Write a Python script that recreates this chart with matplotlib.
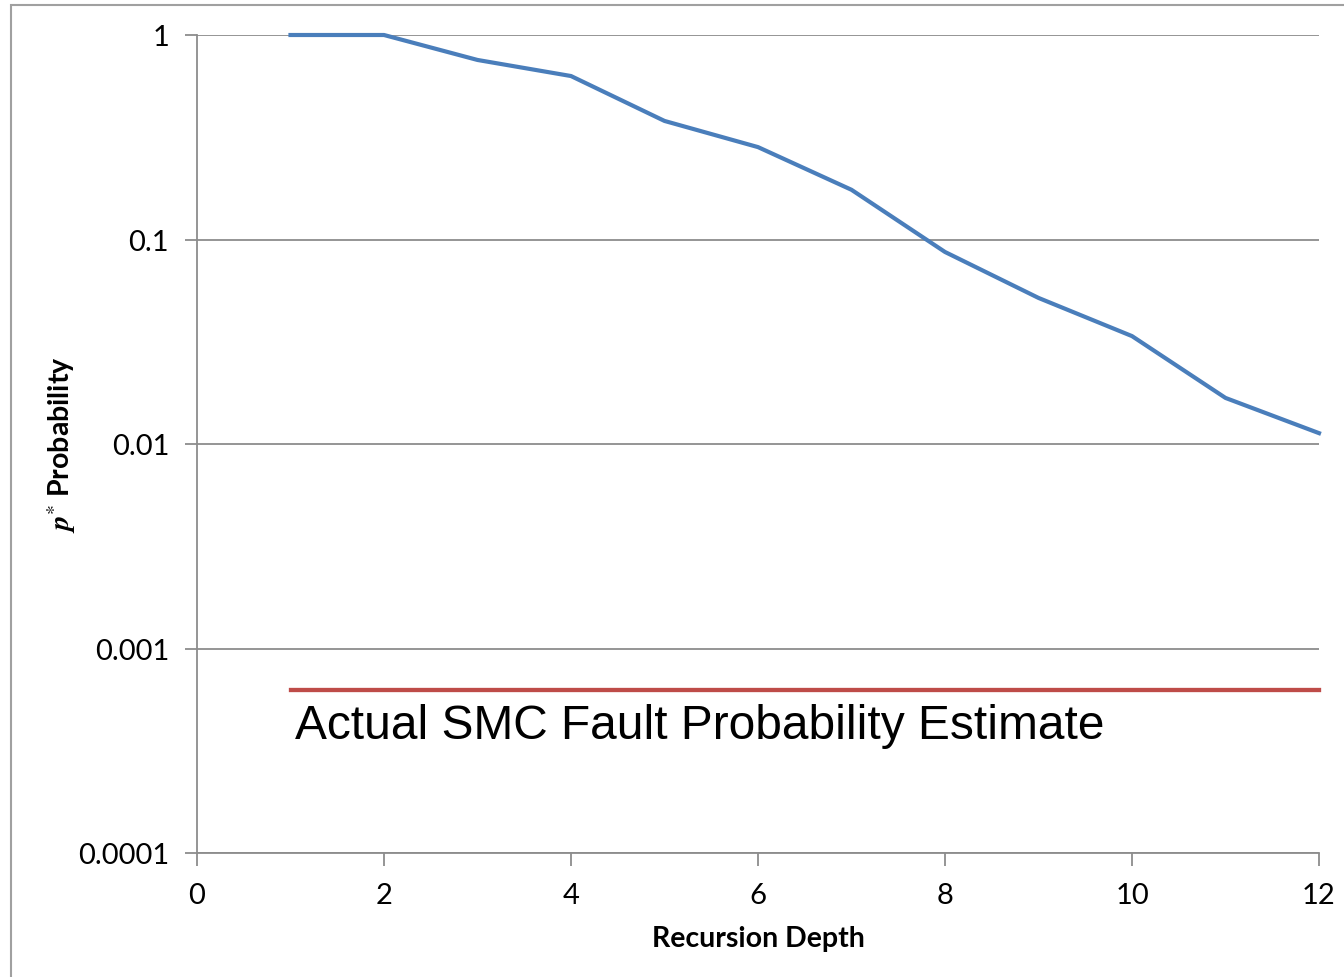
import matplotlib
matplotlib.use("Agg")
import matplotlib.pyplot as plt
from matplotlib.patches import Rectangle
from matplotlib.ticker import FixedLocator, FixedFormatter

plt.rcParams["mathtext.fontset"] = "stix"

# Recursion depth vs. p* probability
depth = [1, 2, 3, 4, 5, 6, 7, 8, 9, 10, 11, 12]
p_star = [1.0, 1.0, 0.755, 0.63, 0.38, 0.283, 0.175, 0.0869, 0.0518, 0.0337, 0.0168, 0.0113]

# Reference level: actual SMC fault probability estimate
smc_depth = [1, 12]
smc_level = [0.000630, 0.000630]
smc_label = "Actual SMC Fault Probability Estimate"

x_ticks = [0, 2, 4, 6, 8, 10, 12]
y_ticks = [0.0001, 0.001, 0.01, 0.1, 1]
y_tick_labels = ["0.0001", "0.001", "0.01", "0.1", "1"]

W, H = 1344, 978
fig = plt.figure(figsize=(W / 100, H / 100), dpi=100)
fig.patch.set_facecolor("white")

# outer chart frame
fig.add_artist(Rectangle((11 / W, -0.01), 1.02, 1 - 6 / H + 0.01,
                         transform=fig.transFigure, fill=False,
                         edgecolor="#a0a0a0", linewidth=1.5))

ax = fig.add_axes([197 / W, 1 - 854 / H, (1319 - 197) / W, (854 - 36) / H])
ax.set_yscale("log")
ax.set_xlim(0, 12)
ax.set_ylim(0.0001, 1)

grid_c = "#8c8c8c"
for s in ("top", "right"):
    ax.spines[s].set_visible(False)
for s in ("left", "bottom"):
    ax.spines[s].set_color(grid_c)
    ax.spines[s].set_linewidth(1.3)

ax.yaxis.set_major_locator(FixedLocator(y_ticks))
ax.yaxis.set_major_formatter(FixedFormatter(y_tick_labels))
ax.yaxis.set_minor_locator(FixedLocator([]))
ax.set_xticks(x_ticks)
ax.grid(True, axis="y", color=grid_c, linewidth=1.3)
ax.set_axisbelow(True)

ax.tick_params(axis="both", which="major", color=grid_c, width=1.3, length=9,
               direction="out")
ax.tick_params(axis="y", pad=11)
ax.tick_params(axis="x", pad=12)
for lab in ax.get_xticklabels() + ax.get_yticklabels():
    lab.set_fontfamily("Lato")
    lab.set_fontsize(21)

ax.plot(depth, p_star, color="#4a7ebb", linewidth=3.0, solid_joinstyle="round",
        clip_on=False, zorder=3)
ax.plot(smc_depth, smc_level, color="#be4b48", linewidth=3.1, clip_on=False, zorder=3)

ax.text(1.05, smc_level[0] * 0.86, smc_label, family="Liberation Sans", fontsize=34.5,
        ha="left", va="top", color="black")

ax.set_xlabel("Recursion Depth", family="Lato", fontsize=20.5, fontweight="bold",
              va="center")
ax.xaxis.set_label_coords(0.5, -(939 - 854) / 818)
ax.set_ylabel(r"$\boldsymbol{p}^{*}$ Probability", family="Lato", fontsize=20.5,
              fontweight="bold", va="center")
ax.yaxis.set_label_coords((62 - 197) / 1122, 0.5)

fig.savefig("out.png", dpi=100, facecolor="white")
